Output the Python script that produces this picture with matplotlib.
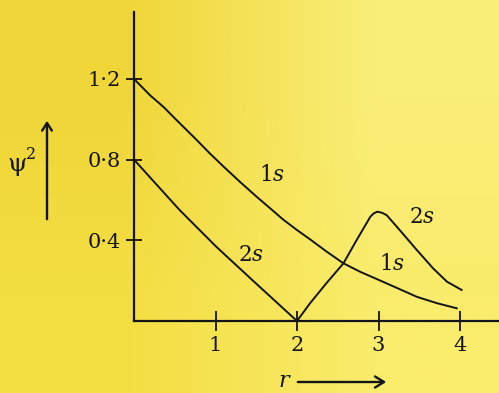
import numpy as np
import matplotlib
matplotlib.use("Agg")
import matplotlib.pyplot as plt
from matplotlib.patches import FancyArrowPatch

plt.rcParams['font.family'] = ['DejaVu Serif']
plt.rcParams['mathtext.fontset'] = 'dejavuserif'

# ---- data ----
r_1s = [0.0, 0.2, 0.36, 0.52, 0.77, 0.93, 1.10, 1.30, 1.505, 1.67, 1.83, 2.0,
        2.16, 2.36, 2.57, 2.78, 2.985, 3.22, 3.47, 3.72, 3.96]
psi2_1s = [1.2, 1.118, 1.062, 0.997, 0.897, 0.831, 0.765, 0.69, 0.616, 0.559, 0.503, 0.451,
           0.405, 0.345, 0.286, 0.243, 0.207, 0.165, 0.12, 0.088, 0.063]

r_2s = [0.0, 0.56, 1.01, 1.5, 2.0, 2.16, 2.36, 2.57, 2.73, 2.90, 2.94, 2.985, 3.04,
        3.10, 3.26, 3.47, 3.67, 3.84, 4.02]
psi2_2s = [0.8, 0.55, 0.368, 0.185, 0.0, 0.088, 0.187, 0.286, 0.40, 0.517, 0.533, 0.542, 0.537,
           0.525, 0.451, 0.352, 0.261, 0.195, 0.154]

x_ticks = [1, 2, 3, 4]
x_ticklabels = ['1', '2', '3', '4']
y_ticks = [0.4, 0.8, 1.2]
y_ticklabels = ['0·4', '0·8', '1·2']

curve_labels = ['$1s$', '$2s$', '$2s$', '$1s$']
label_pos_r = [1.69, 1.435, 3.53, 3.16]
label_pos_psi = [0.724, 0.327, 0.518, 0.282]

W, H = 499, 393
fig = plt.figure(figsize=(W / 100, H / 100), dpi=100)

# paper background (photo of yellow page)
bg = fig.add_axes([0, 0, 1, 1], zorder=-10)
grad = np.array([
    [[240, 214, 56], [249, 238, 120]],
    [[243, 222, 66], [250, 236, 108]],
]) / 255.0
bg.imshow(grad, extent=[0, 1, 0, 1], aspect='auto', interpolation='bilinear')
bg.set_axis_off()

ink = '#141414'
x0, y0 = 134, 321
ax = fig.add_axes([x0 / W, 1 - y0 / H, (W - x0) / W, (y0 - 12) / H])
ax.patch.set_alpha(0)
ax.set_xlim(0, (W - x0) / 81.5)
ax.set_ylim(0, (y0 - 12) / 201.7)

ax.plot(r_1s, psi2_1s, color=ink, lw=1.4, solid_joinstyle='round', clip_on=False)
ax.plot(r_2s, psi2_2s, color=ink, lw=1.4, solid_joinstyle='round', clip_on=False)

for lab, xr, yp in zip(curve_labels, label_pos_r, label_pos_psi):
    ax.text(xr, yp, lab, fontsize=15.5, color=ink, ha='center', va='center')

for s in ['top', 'right']:
    ax.spines[s].set_visible(False)
for s in ['left', 'bottom']:
    ax.spines[s].set_linewidth(1.6)
    ax.spines[s].set_color(ink)

ax.set_xticks(x_ticks)
ax.set_xticklabels(x_ticklabels)
ax.set_yticks(y_ticks)
ax.set_yticklabels(y_ticklabels)
ax.tick_params(axis='x', direction='inout', length=15, width=1.3, color=ink,
               labelsize=15, pad=3, labelcolor=ink)
ax.tick_params(axis='y', direction='inout', length=11, width=1.3, color=ink,
               labelsize=15, pad=4, labelcolor=ink)

# axis labels with arrows (figure pixel coordinates)
def fx(px):
    return px / W

def fy(py):
    return 1 - py / H

fig.text(fx(17), fy(165), 'ψ', fontsize=18, color=ink, ha='center', va='center')
fig.text(fx(31.5), fy(154), '2', fontsize=11.5, color=ink, ha='center', va='center')
fig.add_artist(FancyArrowPatch(
    (fx(47), fy(222)), (fx(47), fy(118)), transform=fig.transFigure,
    arrowstyle='->,head_length=5.5,head_width=3.5', color=ink, lw=1.7))

fig.text(fx(285), fy(381), '$r$', fontsize=16, color=ink, ha='center', va='center')
fig.add_artist(FancyArrowPatch(
    (fx(295), fy(382)), (fx(389), fy(382)), transform=fig.transFigure,
    arrowstyle='->,head_length=6.5,head_width=4', color=ink, lw=1.7))

fig.savefig('out.png', dpi=100)
